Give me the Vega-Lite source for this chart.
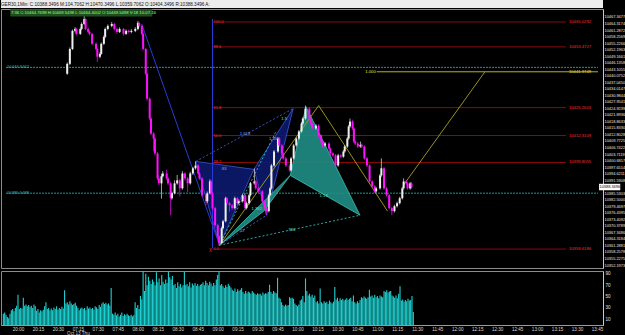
{
"$schema":"https://vega.github.io/schema/vega-lite/v6.json",
"background":"black",
"padding":0,
"spacing":0,
"config":{"font":"Liberation Sans","view":{"stroke":"#8c8c8c"},"concat":{"spacing":0}},
"datasets":{
"candles":[
{"i":34,"o":10441.0,"h":10446.2,"l":10440.5,"c":10445.6},
{"i":36,"o":10445.6,"h":10453.2,"l":10445.0,"c":10452.5},
{"i":38,"o":10452.5,"h":10461.5,"l":10452.0,"c":10460.9},
{"i":40,"o":10460.9,"h":10462.6,"l":10460.2,"c":10461.8},
{"i":41,"o":10461.8,"h":10462.3,"l":10458.8,"c":10459.5},
{"i":44,"o":10459.5,"h":10462.5,"l":10459.0,"c":10461.8},
{"i":45,"o":10461.8,"h":10464.8,"l":10461.2,"c":10464.1},
{"i":47,"o":10464.1,"h":10467.8,"l":10463.6,"c":10466.4},
{"i":48,"o":10466.4,"h":10466.8,"l":10461.2,"c":10461.8},
{"i":50,"o":10461.8,"h":10462.4,"l":10459.8,"c":10460.4},
{"i":51,"o":10460.4,"h":10461.0,"l":10458.8,"c":10459.5},
{"i":53,"o":10459.5,"h":10460.0,"l":10454.2,"c":10454.9},
{"i":56,"o":10454.9,"h":10455.5,"l":10451.8,"c":10452.5},
{"i":57,"o":10452.5,"h":10453.0,"l":10446.5,"c":10448.9},
{"i":59,"o":10448.9,"h":10451.0,"l":10448.2,"c":10450.2},
{"i":60,"o":10450.2,"h":10455.5,"l":10449.8,"c":10454.9},
{"i":62,"o":10454.9,"h":10458.8,"l":10454.3,"c":10458.1},
{"i":63,"o":10458.1,"h":10462.4,"l":10457.5,"c":10461.8},
{"i":65,"o":10461.8,"h":10463.9,"l":10461.2,"c":10463.2},
{"i":68,"o":10463.2,"h":10465.0,"l":10462.6,"c":10464.1},
{"i":70,"o":10464.1,"h":10464.6,"l":10461.0,"c":10461.8},
{"i":72,"o":10461.8,"h":10462.4,"l":10459.6,"c":10460.4},
{"i":74,"o":10460.4,"h":10462.5,"l":10459.9,"c":10461.8},
{"i":77,"o":10461.8,"h":10462.2,"l":10458.7,"c":10459.5},
{"i":79,"o":10459.5,"h":10461.6,"l":10459.0,"c":10460.9},
{"i":81,"o":10460.9,"h":10461.5,"l":10459.7,"c":10460.4},
{"i":83,"o":10460.4,"h":10461.7,"l":10459.8,"c":10460.9},
{"i":86,"o":10460.9,"h":10462.6,"l":10460.3,"c":10461.8},
{"i":88,"o":10461.8,"h":10465.5,"l":10461.2,"c":10464.6},
{"i":89,"o":10464.6,"h":10465.1,"l":10462.5,"c":10463.2},
{"i":91,"o":10463.2,"h":10463.7,"l":10458.8,"c":10459.5},
{"i":92,"o":10459.5,"h":10460.0,"l":10451.8,"c":10452.5},
{"i":94,"o":10452.5,"h":10453.0,"l":10440.2,"c":10441.0},
{"i":95,"o":10441.0,"h":10441.5,"l":10428.6,"c":10429.4},
{"i":97,"o":10429.4,"h":10430.0,"l":10419.4,"c":10420.2},
{"i":98,"o":10420.2,"h":10420.8,"l":10412.4,"c":10413.2},
{"i":100,"o":10413.2,"h":10413.9,"l":10405.0,"c":10410.9},
{"i":101,"o":10410.9,"h":10411.5,"l":10403.2,"c":10404.0},
{"i":103,"o":10404.0,"h":10404.6,"l":10391.6,"c":10392.4},
{"i":104,"o":10392.4,"h":10393.8,"l":10389.3,"c":10390.1},
{"i":106,"o":10390.1,"h":10394.5,"l":10383.0,"c":10393.4},
{"i":107,"o":10393.4,"h":10395.8,"l":10392.8,"c":10394.7},
{"i":110,"o":10394.7,"h":10396.5,"l":10391.6,"c":10392.4},
{"i":111,"o":10392.4,"h":10393.0,"l":10389.3,"c":10390.1},
{"i":113,"o":10390.1,"h":10390.8,"l":10375.3,"c":10383.2},
{"i":114,"o":10383.2,"h":10386.3,"l":10382.5,"c":10385.5},
{"i":116,"o":10385.5,"h":10391.5,"l":10385.0,"c":10390.1},
{"i":118,"o":10390.1,"h":10394.0,"l":10389.5,"c":10391.5},
{"i":120,"o":10391.5,"h":10392.2,"l":10384.0,"c":10387.8},
{"i":122,"o":10387.8,"h":10395.8,"l":10387.2,"c":10394.7},
{"i":124,"o":10394.7,"h":10395.3,"l":10391.5,"c":10392.4},
{"i":126,"o":10392.4,"h":10393.0,"l":10386.0,"c":10390.1},
{"i":128,"o":10390.1,"h":10395.5,"l":10389.5,"c":10394.7},
{"i":130,"o":10394.7,"h":10397.8,"l":10394.0,"c":10397.1},
{"i":132,"o":10397.1,"h":10400.3,"l":10396.5,"c":10398.4},
{"i":134,"o":10398.4,"h":10399.0,"l":10394.0,"c":10394.7},
{"i":135,"o":10394.7,"h":10395.3,"l":10391.6,"c":10392.4},
{"i":137,"o":10392.4,"h":10393.0,"l":10383.8,"c":10384.6},
{"i":140,"o":10384.6,"h":10385.2,"l":10380.0,"c":10381.8},
{"i":141,"o":10381.8,"h":10386.3,"l":10381.0,"c":10385.5},
{"i":143,"o":10385.5,"h":10392.0,"l":10385.0,"c":10391.0},
{"i":144,"o":10391.0,"h":10391.6,"l":10384.8,"c":10385.5},
{"i":145,"o":10385.5,"h":10386.0,"l":10377.8,"c":10378.6},
{"i":147,"o":10378.6,"h":10379.2,"l":10369.8,"c":10370.7},
{"i":149,"o":10370.7,"h":10371.3,"l":10364.8,"c":10365.6},
{"i":150,"o":10365.6,"h":10366.2,"l":10361.0,"c":10362.4},
{"i":152,"o":10362.4,"h":10370.0,"l":10361.8,"c":10369.3},
{"i":153,"o":10369.3,"h":10373.2,"l":10368.7,"c":10372.5},
{"i":155,"o":10372.5,"h":10383.9,"l":10372.0,"c":10383.2},
{"i":156,"o":10383.2,"h":10383.8,"l":10380.2,"c":10380.9},
{"i":158,"o":10380.9,"h":10381.5,"l":10377.0,"c":10379.9},
{"i":160,"o":10379.9,"h":10380.5,"l":10377.9,"c":10378.6},
{"i":162,"o":10378.6,"h":10384.0,"l":10378.0,"c":10383.2},
{"i":164,"o":10383.2,"h":10383.8,"l":10380.2,"c":10380.9},
{"i":165,"o":10380.9,"h":10382.6,"l":10380.3,"c":10381.8},
{"i":168,"o":10381.8,"h":10385.3,"l":10381.2,"c":10384.6},
{"i":170,"o":10384.6,"h":10385.2,"l":10377.8,"c":10378.6},
{"i":171,"o":10378.6,"h":10381.6,"l":10378.0,"c":10380.9},
{"i":173,"o":10380.9,"h":10385.3,"l":10380.3,"c":10384.6},
{"i":174,"o":10384.6,"h":10390.8,"l":10384.0,"c":10390.1},
{"i":177,"o":10390.1,"h":10397.0,"l":10389.5,"c":10391.0},
{"i":178,"o":10391.0,"h":10391.6,"l":10387.1,"c":10387.8},
{"i":180,"o":10387.8,"h":10388.4,"l":10385.7,"c":10386.4},
{"i":183,"o":10386.4,"h":10387.0,"l":10381.1,"c":10381.8},
{"i":185,"o":10381.8,"h":10382.4,"l":10377.8,"c":10378.6},
{"i":186,"o":10378.6,"h":10379.2,"l":10375.3,"c":10377.2},
{"i":188,"o":10377.2,"h":10385.3,"l":10376.6,"c":10384.6},
{"i":189,"o":10384.6,"h":10388.5,"l":10384.0,"c":10387.8},
{"i":190,"o":10387.8,"h":10399.1,"l":10387.2,"c":10398.4},
{"i":192,"o":10398.4,"h":10405.6,"l":10397.8,"c":10404.9},
{"i":195,"o":10404.9,"h":10411.6,"l":10404.3,"c":10410.9},
{"i":196,"o":10410.9,"h":10411.5,"l":10407.0,"c":10407.7},
{"i":198,"o":10407.7,"h":10408.3,"l":10403.3,"c":10404.0},
{"i":199,"o":10404.0,"h":10404.6,"l":10401.0,"c":10401.7},
{"i":201,"o":10401.7,"h":10402.3,"l":10397.7,"c":10398.4},
{"i":204,"o":10398.4,"h":10399.0,"l":10395.4,"c":10396.1},
{"i":205,"o":10396.1,"h":10402.4,"l":10395.5,"c":10401.7},
{"i":207,"o":10401.7,"h":10408.4,"l":10401.1,"c":10407.7},
{"i":209,"o":10407.7,"h":10411.6,"l":10407.1,"c":10410.9},
{"i":211,"o":10410.9,"h":10414.9,"l":10410.3,"c":10414.2},
{"i":213,"o":10414.2,"h":10418.6,"l":10413.6,"c":10417.9},
{"i":214,"o":10417.9,"h":10420.9,"l":10417.3,"c":10420.2},
{"i":216,"o":10420.2,"h":10426.2,"l":10419.6,"c":10424.8},
{"i":219,"o":10424.8,"h":10425.4,"l":10419.5,"c":10420.2},
{"i":220,"o":10420.2,"h":10420.8,"l":10417.2,"c":10417.9},
{"i":221,"o":10417.9,"h":10418.5,"l":10414.9,"c":10415.6},
{"i":224,"o":10415.6,"h":10417.6,"l":10415.0,"c":10416.9},
{"i":226,"o":10416.9,"h":10417.5,"l":10411.6,"c":10412.3},
{"i":228,"o":10412.3,"h":10412.9,"l":10408.8,"c":10409.5},
{"i":229,"o":10409.5,"h":10410.1,"l":10407.0,"c":10407.7},
{"i":231,"o":10407.7,"h":10409.3,"l":10407.1,"c":10408.6},
{"i":234,"o":10408.6,"h":10409.2,"l":10405.6,"c":10406.3},
{"i":235,"o":10406.3,"h":10406.9,"l":10403.3,"c":10404.0},
{"i":237,"o":10404.0,"h":10404.6,"l":10402.4,"c":10403.1},
{"i":239,"o":10403.1,"h":10403.7,"l":10397.7,"c":10398.4},
{"i":241,"o":10398.4,"h":10403.8,"l":10397.8,"c":10403.1},
{"i":243,"o":10403.1,"h":10403.7,"l":10401.8,"c":10402.5},
{"i":245,"o":10402.5,"h":10405.6,"l":10402.0,"c":10404.9},
{"i":246,"o":10404.9,"h":10407.9,"l":10404.3,"c":10407.2},
{"i":248,"o":10407.2,"h":10411.6,"l":10406.6,"c":10410.9},
{"i":249,"o":10410.9,"h":10417.2,"l":10410.3,"c":10416.5},
{"i":250,"o":10416.5,"h":10420.2,"l":10415.9,"c":10418.8},
{"i":252,"o":10418.8,"h":10419.4,"l":10414.9,"c":10415.6},
{"i":253,"o":10415.6,"h":10416.2,"l":10408.8,"c":10409.5},
{"i":254,"o":10409.5,"h":10410.1,"l":10407.9,"c":10408.6},
{"i":256,"o":10408.6,"h":10409.2,"l":10406.5,"c":10407.2},
{"i":258,"o":10407.2,"h":10409.5,"l":10406.6,"c":10408.0},
{"i":259,"o":10408.0,"h":10408.6,"l":10406.5,"c":10407.2},
{"i":261,"o":10407.2,"h":10407.8,"l":10401.0,"c":10401.7},
{"i":263,"o":10401.7,"h":10402.3,"l":10397.7,"c":10398.4},
{"i":265,"o":10398.4,"h":10399.0,"l":10390.3,"c":10391.0},
{"i":267,"o":10391.0,"h":10391.6,"l":10388.0,"c":10388.7},
{"i":269,"o":10388.7,"h":10389.3,"l":10385.7,"c":10386.4},
{"i":270,"o":10386.4,"h":10388.5,"l":10385.8,"c":10387.8},
{"i":273,"o":10387.8,"h":10394.5,"l":10387.2,"c":10393.8},
{"i":274,"o":10393.8,"h":10401.7,"l":10393.2,"c":10397.1},
{"i":276,"o":10397.1,"h":10397.7,"l":10387.1,"c":10387.8},
{"i":278,"o":10387.8,"h":10388.4,"l":10383.9,"c":10384.6},
{"i":280,"o":10384.6,"h":10385.2,"l":10377.9,"c":10378.6},
{"i":282,"o":10378.6,"h":10379.2,"l":10375.3,"c":10377.2},
{"i":284,"o":10377.2,"h":10380.2,"l":10376.6,"c":10379.5},
{"i":286,"o":10379.5,"h":10381.6,"l":10378.9,"c":10380.9},
{"i":288,"o":10380.9,"h":10383.9,"l":10380.3,"c":10383.2},
{"i":290,"o":10383.2,"h":10388.5,"l":10382.6,"c":10387.8},
{"i":291,"o":10387.8,"h":10392.4,"l":10387.2,"c":10391.0},
{"i":293,"o":10391.0,"h":10391.6,"l":10389.4,"c":10390.1},
{"i":294,"o":10390.1,"h":10390.7,"l":10387.1,"c":10387.8},
{"i":296,"o":10387.8,"h":10390.8,"l":10387.2,"c":10390.1},
{"i":297,"o":10390.1,"h":10390.7,"l":10387.6,"c":10388.35}
],
"vol":[
{"i":-11,"v":20},{"i":-10,"v":22},{"i":-9,"v":18},{"i":-8,"v":14},{"i":-7,"v":12},{"i":-6,"v":20},{"i":-5,"v":26},{"i":-4,"v":28},{"i":-3,"v":24},{"i":-2,"v":30},{"i":-1,"v":34},{"i":0,"v":53},{"i":1,"v":28},{"i":2,"v":30},{"i":3,"v":29},{"i":4,"v":48},{"i":5,"v":34},{"i":6,"v":36},{"i":7,"v":33},{"i":8,"v":35},{"i":9,"v":32},{"i":10,"v":34},{"i":11,"v":30},{"i":12,"v":36},{"i":13,"v":33},{"i":14,"v":25},{"i":15,"v":28},{"i":16,"v":22},{"i":17,"v":26},{"i":18,"v":24},{"i":19,"v":27},{"i":20,"v":33},{"i":21,"v":40},{"i":22,"v":28},{"i":23,"v":30},{"i":24,"v":26},{"i":25,"v":29},{"i":26,"v":26},{"i":27,"v":31},{"i":28,"v":28},{"i":29,"v":33},{"i":30,"v":27},{"i":31,"v":30},{"i":32,"v":28},{"i":33,"v":32},{"i":34,"v":29},{"i":35,"v":61},{"i":36,"v":38},{"i":37,"v":40},{"i":38,"v":36},{"i":39,"v":42},{"i":40,"v":38},{"i":41,"v":35},{"i":42,"v":37},{"i":43,"v":39},{"i":44,"v":34},{"i":45,"v":30},{"i":46,"v":26},{"i":47,"v":29},{"i":48,"v":31},{"i":49,"v":28},{"i":50,"v":30},{"i":51,"v":26},{"i":52,"v":33},{"i":53,"v":29},{"i":54,"v":31},{"i":55,"v":28},{"i":56,"v":30},{"i":57,"v":27},{"i":58,"v":33},{"i":59,"v":31},{"i":60,"v":28},{"i":61,"v":35},{"i":62,"v":32},{"i":63,"v":38},{"i":64,"v":40},{"i":65,"v":37},{"i":66,"v":39},{"i":67,"v":36},{"i":68,"v":38},{"i":69,"v":34},{"i":70,"v":65},{"i":71,"v":20},{"i":72,"v":18},{"i":73,"v":22},{"i":74,"v":17},{"i":75,"v":20},{"i":76,"v":15},{"i":77,"v":18},{"i":78,"v":22},{"i":79,"v":16},{"i":80,"v":19},{"i":81,"v":17},{"i":82,"v":20},{"i":83,"v":17},{"i":84,"v":16},{"i":85,"v":18},{"i":86,"v":15},{"i":87,"v":17},{"i":88,"v":40},{"i":89,"v":30},{"i":90,"v":35},{"i":91,"v":28},{"i":92,"v":51},{"i":93,"v":45},{"i":94,"v":95},{"i":95,"v":60},{"i":96,"v":90},{"i":97,"v":70},{"i":98,"v":85},{"i":99,"v":78},{"i":100,"v":72},{"i":101,"v":80},{"i":102,"v":76},{"i":103,"v":70},{"i":104,"v":93},{"i":105,"v":75},{"i":106,"v":82},{"i":107,"v":70},{"i":108,"v":88},{"i":109,"v":76},{"i":110,"v":72},{"i":111,"v":80},{"i":112,"v":74},{"i":113,"v":95},{"i":114,"v":84},{"i":115,"v":80},{"i":116,"v":86},{"i":117,"v":70},{"i":118,"v":72},{"i":119,"v":65},{"i":120,"v":75},{"i":121,"v":68},{"i":122,"v":72},{"i":123,"v":66},{"i":124,"v":70},{"i":125,"v":94},{"i":126,"v":70},{"i":127,"v":72},{"i":128,"v":68},{"i":129,"v":75},{"i":130,"v":66},{"i":131,"v":73},{"i":132,"v":70},{"i":133,"v":74},{"i":134,"v":69},{"i":135,"v":72},{"i":136,"v":68},{"i":137,"v":71},{"i":138,"v":72},{"i":139,"v":75},{"i":140,"v":70},{"i":141,"v":78},{"i":142,"v":74},{"i":143,"v":70},{"i":144,"v":76},{"i":145,"v":73},{"i":146,"v":68},{"i":147,"v":74},{"i":148,"v":70},{"i":149,"v":80},{"i":150,"v":88},{"i":151,"v":95},{"i":152,"v":70},{"i":153,"v":72},{"i":154,"v":68},{"i":155,"v":65},{"i":156,"v":70},{"i":157,"v":67},{"i":158,"v":72},{"i":159,"v":69},{"i":160,"v":66},{"i":161,"v":62},{"i":162,"v":60},{"i":163,"v":64},{"i":164,"v":58},{"i":165,"v":63},{"i":166,"v":60},{"i":167,"v":62},{"i":168,"v":65},{"i":169,"v":58},{"i":170,"v":55},{"i":171,"v":60},{"i":172,"v":56},{"i":173,"v":59},{"i":174,"v":57},{"i":175,"v":55},{"i":176,"v":60},{"i":177,"v":57},{"i":178,"v":55},{"i":179,"v":53},{"i":180,"v":56},{"i":181,"v":54},{"i":182,"v":55},{"i":183,"v":52},{"i":184,"v":57},{"i":185,"v":54},{"i":186,"v":56},{"i":187,"v":55},{"i":188,"v":58},{"i":189,"v":71},{"i":190,"v":58},{"i":191,"v":55},{"i":192,"v":60},{"i":193,"v":57},{"i":194,"v":56},{"i":195,"v":83},{"i":196,"v":48},{"i":197,"v":46},{"i":198,"v":40},{"i":199,"v":35},{"i":200,"v":33},{"i":201,"v":36},{"i":202,"v":34},{"i":203,"v":35},{"i":204,"v":49},{"i":205,"v":47},{"i":206,"v":48},{"i":207,"v":46},{"i":208,"v":38},{"i":209,"v":35},{"i":210,"v":33},{"i":211,"v":36},{"i":212,"v":43},{"i":213,"v":45},{"i":214,"v":51},{"i":215,"v":40},{"i":216,"v":82},{"i":217,"v":60},{"i":218,"v":52},{"i":219,"v":55},{"i":220,"v":50},{"i":221,"v":53},{"i":222,"v":48},{"i":223,"v":52},{"i":224,"v":40},{"i":225,"v":42},{"i":226,"v":38},{"i":227,"v":64},{"i":228,"v":40},{"i":229,"v":38},{"i":230,"v":42},{"i":231,"v":39},{"i":232,"v":41},{"i":233,"v":37},{"i":234,"v":43},{"i":235,"v":40},{"i":236,"v":38},{"i":237,"v":41},{"i":238,"v":67},{"i":239,"v":45},{"i":240,"v":48},{"i":241,"v":42},{"i":242,"v":47},{"i":243,"v":44},{"i":244,"v":46},{"i":245,"v":43},{"i":246,"v":45},{"i":247,"v":47},{"i":248,"v":44},{"i":249,"v":46},{"i":250,"v":48},{"i":251,"v":42},{"i":252,"v":52},{"i":253,"v":40},{"i":254,"v":38},{"i":255,"v":42},{"i":256,"v":39},{"i":257,"v":44},{"i":258,"v":49},{"i":259,"v":47},{"i":260,"v":50},{"i":261,"v":48},{"i":262,"v":46},{"i":263,"v":49},{"i":264,"v":62},{"i":265,"v":50},{"i":266,"v":52},{"i":267,"v":48},{"i":268,"v":53},{"i":269,"v":49},{"i":270,"v":51},{"i":271,"v":47},{"i":272,"v":52},{"i":273,"v":50},{"i":274,"v":49},{"i":275,"v":60},{"i":276,"v":58},{"i":277,"v":61},{"i":278,"v":57},{"i":279,"v":59},{"i":280,"v":60},{"i":281,"v":52},{"i":282,"v":50},{"i":283,"v":48},{"i":284,"v":52},{"i":285,"v":47},{"i":286,"v":55},{"i":287,"v":68},{"i":288,"v":43},{"i":289,"v":45},{"i":290,"v":41},{"i":291,"v":44},{"i":292,"v":42},{"i":293,"v":46},{"i":294,"v":43},{"i":295,"v":44},{"i":296,"v":51},{"i":297,"v":23}
],
"navy":[
{"s":"n1","k":0,"x":132.2,"y":10400.3},{"s":"n1","k":1,"x":176.6,"y":10396.6},{"s":"n1","k":2,"x":150.3,"y":10361.4},
{"s":"n2","k":0,"x":176.6,"y":10396.6},{"s":"n2","k":1,"x":206.6,"y":10424.8},{"s":"n2","k":2,"x":186.3,"y":10375.3}
],
"teal":[
{"s":"t1","k":0,"x":150.3,"y":10361.4},{"s":"t1","k":1,"x":184.1,"y":10377.2},{"s":"t1","k":2,"x":204.4,"y":10393.8},
{"s":"t2","k":0,"x":204.4,"y":10393.8},{"s":"t2","k":1,"x":216.4,"y":10425.7},{"s":"t2","k":2,"x":257.7,"y":10375.3}
],
"blueSolid":[
{"s":"a","k":0,"x":90.9,"y":10464.1},{"s":"a","k":1,"x":150.3,"y":10361.4},
{"s":"v","k":0,"x":145,"y":10466.4},{"s":"v","k":1,"x":145,"y":10360.0}
],
"blueDash":[
{"s":"ad","k":0,"x":132.2,"y":10400.3},{"s":"ad","k":1,"x":206.6,"y":10424.8},
{"s":"xc","k":0,"x":150.3,"y":10361.4},{"s":"xc","k":1,"x":186.3,"y":10375.3}
],
"tealDash":[
{"s":"xd","k":0,"x":150.3,"y":10361.4},{"s":"xd","k":1,"x":257.7,"y":10375.3},
{"s":"xa","k":0,"x":150.3,"y":10361.4},{"s":"xa","k":1,"x":193.8,"y":10414.6}
],
"yellow":[
{"s":"y1","k":0,"x":150.3,"y":10361.4},{"s":"y1","k":1,"x":226.1,"y":10426.2},{"s":"y1","k":2,"x":278.7,"y":10377.2},
{"s":"y2","k":0,"x":290.8,"y":10389.2},{"s":"y2","k":1,"x":353.1,"y":10441.9}
],
"redLines":[
{"p":10465.04,"a":145,"b":415,"t":"10465.0292","f":"100.0"},
{"p":10453.47,"a":145,"b":415,"t":"10453.4727","f":"88.6"},
{"p":10425.26,"a":145,"b":415,"t":"10425.2603","f":"61.8"},
{"p":10412.31,"a":145,"b":415,"t":"10412.3109","f":"50.0"},
{"p":10399.80,"a":145,"b":415,"t":"10399.8055","f":"38.2"},
{"p":10359.60,"a":145,"b":415,"t":"10359.6186","f":"0.0"}
],
"tealLines":[
{"p":10443.95,"a":-12.77,"b":439.5,"t":"10443.9462"},
{"p":10385.55,"a":-12.77,"b":439.5,"t":"10385.5488"}
],
"yellowLine":[{"p":10441.9,"a":270.5,"b":439.5,"t":"10441.9749","r":"1.000"}],
"blueText":[
{"x":153.5,"y":10396.6,"t":".83"},{"x":169.8,"y":10412.8,"t":"1.618"},{"x":191.3,"y":10410.9,"t":"1.35"},{"x":167.5,"y":10367.9,"t":".57"}
],
"tealText":[
{"x":205.1,"y":10368.4,"t":".786"},{"x":229.9,"y":10384.1,"t":"1.13"},{"x":199.8,"y":10420.2,"t":"1.5"},{"x":178.8,"y":10378.1,"t":"1.382"}
],
"redText":[{"x":143.5,"y":10358.9,"t":"X"}],
"last":[{"a":440.3,"b":456.5,"lo":10386.9,"hi":10389.9,"p":10388.35,"t":"10388.3496"}]
},
"vconcat":[
{
"width":602,"height":8,
"view":{"fill":"#ececec","stroke":null},
"data":{"values":[]},
"mark":"point",
"title":{"text":"GER30,1Min: C:10388.3496 M:104.7062 H:10470.3496 L:10359.7062 O:10404.3496 R:10388.3496 A:","anchor":"start","frame":"group","orient":"top","offset":-7,"fontSize":4.6,"fontWeight":"normal","color":"#111111","font":"Liberation Sans"}
},
{
"width":602,"height":259,
"view":{"stroke":"#8c8c8c"},
"resolve":{"axis":{"x":"independent","y":"independent"}},
"layer":[
{"data":{"name":"tealLines"},"mark":{"type":"rule","color":"#1a9a9a","strokeWidth":1,"strokeDash":[2,1]},
 "encoding":{"x":{"field":"a","type":"quantitative","scale":{"domain":[-12.77,439.5],"nice":false,"zero":false},"axis":null},"x2":{"field":"b"},
 "y":{"field":"p","type":"quantitative","scale":{"domain":[10350.81,10471.05],"nice":false,"zero":false},
   "axis":{"orient":"right","values":[10467.3477,10464.3174,10461.2872,10458.2569,10455.2266,10452.1963,10449.1661,10446.1358,10443.1055,10440.0752,10437.045,10434.0147,10430.9844,10427.9541,10424.9239,10421.8936,10418.8633,10415.833,10412.8028,10409.7725,10406.7422,10403.7119,10400.6817,10397.6514,10394.6211,10391.5908,10385.5303,10382.5,10379.4697,10376.4395,10373.4092,10370.3789,10367.3486,10364.3184,10361.2881,10358.2578,10355.2275,10352.1973],
   "format":".4f","title":null,"grid":false,"ticks":false,"labelPadding":1,"labelFontSize":3.9,"labelColor":"#e6e6e6","labelOverlap":false,"labelBound":false,"labelFlush":false,"domainColor":"#c8c8c8"}}}},
{"data":{"name":"redLines"},"mark":{"type":"rule","color":"#8a0a0a","strokeWidth":1},
 "encoding":{"x":{"field":"a","type":"quantitative","axis":null},"x2":{"field":"b"},"y":{"field":"p","type":"quantitative","axis":null}}},
{"data":{"name":"navy"},"mark":{"type":"line","interpolate":"linear-closed","fill":"#0c1a6e","fillOpacity":0.9,"stroke":"#3a55dd","strokeWidth":0.8},
 "encoding":{"x":{"field":"x","type":"quantitative","axis":null},"y":{"field":"y","type":"quantitative","axis":null},"detail":{"field":"s"},"order":{"field":"k"}}},
{"data":{"name":"teal"},"mark":{"type":"line","interpolate":"linear-closed","fill":"#1f8e86","fillOpacity":0.9,"stroke":"#3cc0b2","strokeWidth":0.8},
 "encoding":{"x":{"field":"x","type":"quantitative","axis":null},"y":{"field":"y","type":"quantitative","axis":null},"detail":{"field":"s"},"order":{"field":"k"}}},
{"data":{"name":"blueSolid"},"mark":{"type":"line","color":"#2a3ad8","strokeWidth":1},
 "encoding":{"x":{"field":"x","type":"quantitative","axis":null},"y":{"field":"y","type":"quantitative","axis":null},"detail":{"field":"s"},"order":{"field":"k"}}},
{"data":{"name":"blueDash"},"mark":{"type":"line","color":"#4a66e8","strokeWidth":0.8,"strokeDash":[2,2]},
 "encoding":{"x":{"field":"x","type":"quantitative","axis":null},"y":{"field":"y","type":"quantitative","axis":null},"detail":{"field":"s"},"order":{"field":"k"}}},
{"data":{"name":"tealDash"},"mark":{"type":"line","color":"#3ccfc0","strokeWidth":0.8,"strokeDash":[2,2]},
 "encoding":{"x":{"field":"x","type":"quantitative","axis":null},"y":{"field":"y","type":"quantitative","axis":null},"detail":{"field":"s"},"order":{"field":"k"}}},
{"data":{"name":"yellow"},"mark":{"type":"line","color":"#a8a020","strokeWidth":0.9},
 "encoding":{"x":{"field":"x","type":"quantitative","axis":null},"y":{"field":"y","type":"quantitative","axis":null},"detail":{"field":"s"},"order":{"field":"k"}}},
{"data":{"name":"yellowLine"},"mark":{"type":"rule","color":"#b8b020","strokeWidth":1},
 "encoding":{"x":{"field":"a","type":"quantitative","axis":null},"x2":{"field":"b"},"y":{"field":"p","type":"quantitative","axis":null}}},
{"data":{"name":"candles"},"mark":{"type":"rule","strokeWidth":0.7},
 "encoding":{"x":{"field":"i","type":"quantitative","axis":null},"y":{"field":"l","type":"quantitative","axis":null},"y2":{"field":"h"},
  "color":{"condition":{"test":"datum.c >= datum.o","value":"#e8e8e8"},"value":"#ff10ff"}}},
{"data":{"name":"candles"},"mark":{"type":"bar","width":2},
 "encoding":{"x":{"field":"i","type":"quantitative","axis":null},"y":{"field":"o","type":"quantitative","axis":null},
  "y2":{"field":"c"},
  "color":{"condition":{"test":"datum.c >= datum.o","value":"#f0f0f0"},"value":"#ff10ff"}}},
{"data":{"values":[{"a":-9.5,"b":99,"lo":10467.6,"hi":10470.9}]},"mark":{"type":"rect","color":"#1d4f1d"},
 "encoding":{"x":{"field":"a","type":"quantitative","axis":null},"x2":{"field":"b"},"y":{"field":"lo","type":"quantitative","axis":null},"y2":{"field":"hi"}}},
{"data":{"values":[{"x":-9,"y":10469.25,"t":"7:36 C:10464.7698 H:10469.5498 L:10464.4002 O:10469.5498 V:18 10-07-16"}]},
 "mark":{"type":"text","align":"left","baseline":"middle","fontSize":4.2,"color":"#9cff9c"},
 "encoding":{"x":{"field":"x","type":"quantitative","axis":null},"y":{"field":"y","type":"quantitative","axis":null},"text":{"field":"t"}}},
{"data":{"name":"last"},"mark":{"type":"rect","color":"#ffffff"},
 "encoding":{"x":{"field":"a","type":"quantitative","axis":null},"x2":{"field":"b"},"y":{"field":"lo","type":"quantitative","axis":null},"y2":{"field":"hi"}}},
{"data":{"name":"last"},"mark":{"type":"text","align":"left","baseline":"middle","fontSize":3.9,"color":"#000000","dx":0.5},
 "encoding":{"x":{"field":"a","type":"quantitative","axis":null},"y":{"field":"p","type":"quantitative","axis":null},"text":{"field":"t"}}},
{"data":{"name":"tealLines"},"mark":{"type":"text","align":"left","baseline":"middle","fontSize":4.2,"color":"#2fb8b8","dx":1},
 "encoding":{"x":{"field":"a","type":"quantitative","axis":null},"y":{"field":"p","type":"quantitative","axis":null},"text":{"field":"t"}}},
{"data":{"name":"redLines"},"mark":{"type":"text","align":"left","baseline":"middle","fontSize":4.2,"color":"#ff2a2a","dx":3},
 "encoding":{"x":{"field":"b","type":"quantitative","axis":null},"y":{"field":"p","type":"quantitative","axis":null},"text":{"field":"t"}}},
{"data":{"name":"redLines"},"mark":{"type":"text","align":"left","baseline":"middle","fontSize":4,"color":"#ff2a2a","dx":1},
 "encoding":{"x":{"field":"a","type":"quantitative","axis":null},"y":{"field":"p","type":"quantitative","axis":null},"text":{"field":"f"}}},
{"data":{"name":"yellowLine"},"mark":{"type":"text","align":"left","baseline":"middle","fontSize":4.2,"color":"#e8e040","dx":3},
 "encoding":{"x":{"datum":415,"type":"quantitative","axis":null},"y":{"field":"p","type":"quantitative","axis":null},"text":{"field":"t"}}},
{"data":{"name":"yellowLine"},"mark":{"type":"text","align":"right","baseline":"middle","fontSize":4.2,"color":"#e8e040","dx":-1},
 "encoding":{"x":{"field":"a","type":"quantitative","axis":null},"y":{"field":"p","type":"quantitative","axis":null},"text":{"field":"r"}}},
{"data":{"name":"blueText"},"mark":{"type":"text","align":"center","baseline":"middle","fontSize":4.2,"color":"#8fa2ff"},
 "encoding":{"x":{"field":"x","type":"quantitative","axis":null},"y":{"field":"y","type":"quantitative","axis":null},"text":{"field":"t"}}},
{"data":{"name":"tealText"},"mark":{"type":"text","align":"center","baseline":"middle","fontSize":4.2,"color":"#5de0d0"},
 "encoding":{"x":{"field":"x","type":"quantitative","axis":null},"y":{"field":"y","type":"quantitative","axis":null},"text":{"field":"t"}}},
{"data":{"name":"redText"},"mark":{"type":"text","align":"center","baseline":"middle","fontSize":4.5,"color":"#ff2a2a"},
 "encoding":{"x":{"field":"x","type":"quantitative","axis":null},"y":{"field":"y","type":"quantitative","axis":null},"text":{"field":"t"}}}
]
},
{
"width":602,"height":54,
"view":{"stroke":"#8c8c8c"},
"data":{"name":"vol"},
"mark":{"type":"rule","color":"#1fd0d0","strokeWidth":1.1},
"encoding":{
 "x":{"field":"i","type":"quantitative","scale":{"domain":[-12.77,439.5],"nice":false,"zero":false},
  "axis":{"values":[0,15,30,45,60,75,90,105,120,135,150,165,180,195,210,225,240,255,270,285,300,315,330,345,360,375,390,405,420,435],
   "labelExpr":"datum.value <= 30 ? timeFormat(time(datetime(2016,9,12,20,0)) + datum.value*60000, '%H:%M') : (datum.value == 45 ? ['07:15', 'Oct 13 Thu'] : timeFormat(time(datetime(2016,9,13,6,30)) + datum.value*60000, '%H:%M'))",
   "title":null,"grid":false,"ticks":false,"labelPadding":1,"labelFontSize":4.6,"labelColor":"#d8d8d8","labelFont":"Liberation Sans","labelOverlap":false,"domainColor":"#9a9a9a","labelLineHeight":4.8}},
 "y":{"field":"v","type":"quantitative","scale":{"domain":[0,95],"nice":false},
  "axis":{"orient":"right","values":[10,30,50,70,90],"title":null,"grid":false,"ticks":false,"labelPadding":2,"labelFontSize":4.6,"labelColor":"#e0e0e0","domainColor":"#c8c8c8"}},
 "y2":{"datum":0}
}
}
]
}
